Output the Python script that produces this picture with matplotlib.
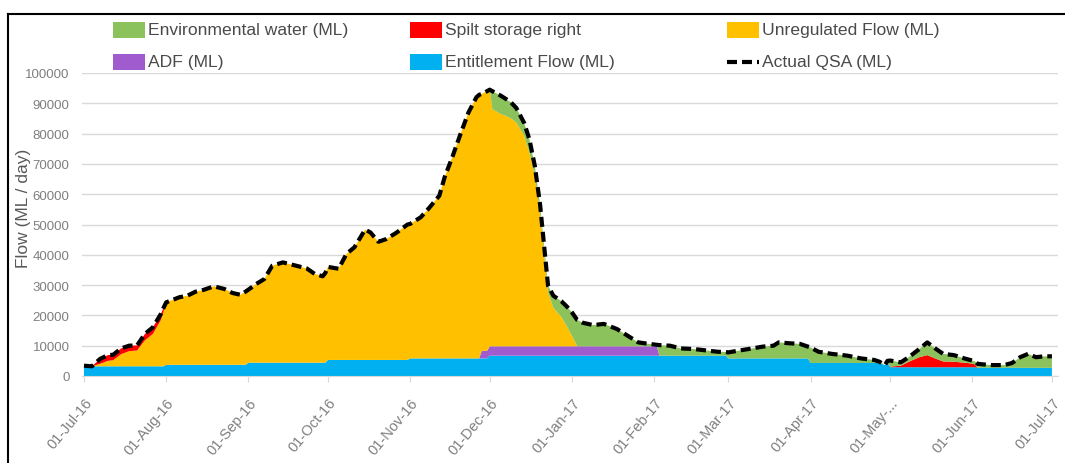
import numpy as np
import pandas as pd
import matplotlib
matplotlib.use("Agg")
import matplotlib.pyplot as plt
import matplotlib.dates as mdates
from matplotlib.patches import Rectangle
from matplotlib.lines import Line2D

# ---------------- data ----------------
start_date = "2016-07-01"
days = [0, 3, 6, 9, 11, 14, 17, 20, 23, 26, 29, 30,
        31, 36, 39, 42, 45, 49, 53, 56, 59, 61,
        62, 65, 68, 71, 75, 80, 84, 87, 90, 91,
        92, 96, 99, 102, 106, 108, 111, 114, 118, 122,
        123, 127, 130, 134, 136, 139, 142, 145, 148, 149, 150, 152,
        153, 154, 157, 159, 161, 163, 166, 168, 170, 172, 174, 175, 177, 180, 182, 184,
        186, 188, 192, 196, 201, 205, 209, 213, 216, 217, 221, 225, 230, 235, 239, 242,
        243, 247, 252, 256, 260, 262, 266, 270, 273,
        274, 277, 282, 288, 293, 298, 300, 302, 303,
        304, 308, 311, 315, 318, 321, 324, 328, 332, 335, 336,
        337, 342, 347, 350, 353, 356, 359, 362, 365]

actual_qsa = [3400, 3200, 5600, 6900, 7000, 9100, 10000, 10100, 13900, 16100, 20500, 22500,
              24300, 26000, 26500, 27800, 28400, 29600, 28700, 27400, 26800, 27900,
              28500, 30400, 32000, 36400, 37500, 36400, 35500, 33700, 32900, 34000,
              36000, 35400, 40300, 42500, 48300, 47400, 44300, 45200, 47400, 50000,
              50200, 52400, 55300, 59500, 65600, 72500, 79900, 87000, 92000, 92800, 93100, 94000,
              94500, 94000, 92600, 91500, 90300, 88500, 83500, 78000, 69400, 56500, 38600, 29800,
              26500, 24700, 23000, 21000,
              18500, 17600, 16800, 17200, 15500, 13300, 11100, 10600, 10300, 10200, 10000, 9100,
              8900, 8400, 8000, 7900,
              7800, 8400, 9100, 9700, 10000, 11100, 10800, 10600, 9700,
              9400, 8000, 7300, 6700, 5800, 5300, 4700, 3600, 5000,
              5100, 4500, 6200, 8900, 11100, 9100, 7300, 6900, 5800, 5100, 4800,
              4000, 3600, 3600, 4300, 6200, 7300, 6200, 6500, 6500]

entitlement = [3200] * 12 + [3700] * 10 + [4400] * 10 + [5300] * 10 + [5800] * 12 + \
              [6700] * 32 + [5800] * 9 + \
              [4300, 4300, 4300, 4300, 4300, 4300, 4300, 3600, 4300] + \
              [2900] * 11 + [2700] * 9

adf = [0] * 42 + [0] * 10 + [2500, 2500] + [3100] * 25 + [0] * 7 + [0] * 38

unregulated = [200, 0, 800, 1800, 2000, 4000, 5000, 5200, 8600, 10700, 15300, 18100,
               20600, 22300, 22800, 24100, 24700, 25900, 25000, 23700, 23100, 24200,
               24100, 26000, 27600, 32000, 33100, 32000, 31100, 29300, 28500, 29600,
               30700, 30100, 35000, 37200, 43000, 42100, 39000, 39900, 42100, 44700,
               44400, 46600, 49500, 53700, 59800, 66700, 74100, 81200, 86200, 87000, 84800, 85700,
               84700, 78300, 76700, 76100, 75200, 73900, 69500, 63700, 56200, 43700, 26200, 17700,
               12700, 9700, 6700, 3500, 0] + [0] * 15 + [0] * 38

spilt = [0, 0, 1600, 1900, 1800, 1900, 1800, 1700, 2100, 2200, 2000, 1200] + [0] * 42 + \
        [0] * 32 + [0] * 9 + [0] * 9 + \
        [200, 500, 1800, 3300, 4000, 2900, 1900, 1800, 1500, 1200, 900] + [0] * 9

environmental = [0] * 54 + \
                [0, 5900, 6100, 5600, 5300, 4800, 4200, 4500, 3400, 3000, 2600, 2300, 4000, 5200,
                 6500, 7700, 8700, 7800, 7000, 7400, 5700, 3500, 1300, 800, 500, 3500, 3300, 2400,
                 2200, 1700, 1300, 1200] + \
                [2000, 2600, 3300, 3900, 4200, 5300, 5000, 4800, 3900] + \
                [5100, 3700, 3000, 2400, 1500, 1000, 400, 0, 700] + \
                [2000, 1100, 1500, 2700, 4200, 3300, 2500, 2200, 1400, 1000, 1000] + \
                [1300, 900, 900, 1600, 3500, 4600, 3500, 3800, 3800]

tick_dates = ["2016-07-01", "2016-08-01", "2016-09-01", "2016-10-01", "2016-11-01",
              "2016-12-01", "2017-01-01", "2017-02-01", "2017-03-01", "2017-04-01",
              "2017-05-01", "2017-06-01", "2017-07-01"]
tick_labels = ["01-Jul-16", "01-Aug-16", "01-Sep-16", "01-Oct-16", "01-Nov-16",
               "01-Dec-16", "01-Jan-17", "01-Feb-17", "01-Mar-17", "01-Apr-17",
               "01-May-...", "01-Jun-17", "01-Jul-17"]
y_ticks = [0, 10000, 20000, 30000, 40000, 50000, 60000, 70000, 80000, 90000, 100000]

series_names = ["Environmental water (ML)", "Spilt storage right", "Unregulated Flow (ML)",
                "ADF (ML)", "Entitlement Flow (ML)", "Actual QSA (ML)"]

n = len(days)
for arr in (actual_qsa, entitlement, adf, unregulated, spilt, environmental):
    assert len(arr) == n, len(arr)

# ---------------- style ----------------
plt.rcParams["font.family"] = ["Liberation Sans", "DejaVu Sans"]

C_GREEN = "#8BC25B"
C_RED = "#FF0000"
C_ORANGE = "#FFC000"
C_PURPLE = "#A05CCF"
C_BLUE = "#00B0F0"
GRAY = "#7F7F7F"
TXT = "#4A4A4A"

W, H = 1065, 464
fig = plt.figure(figsize=(W / 100, H / 100), dpi=100)

def fx(px):
    return px / W

def fy(py):
    return 1 - py / H

ax = fig.add_axes([fx(82), fy(377), fx(1058) - fx(82), fy(74) - fy(377)])

t0 = pd.Timestamp(start_date)
dates = [t0 + pd.Timedelta(days=d) for d in days]
xd = mdates.date2num(dates)

ax.stackplot(xd, entitlement, adf, unregulated, spilt, environmental,
             colors=[C_BLUE, C_PURPLE, C_ORANGE, C_RED, C_GREEN], linewidth=0, zorder=2)
ax.plot(xd, actual_qsa, color="black", lw=3.0, linestyle=(0, (2.4, 1.2)),
        dash_capstyle="butt", zorder=3)

x0 = mdates.date2num(t0)
ax.set_xlim(x0 - 0.75, x0 + 367.3)
ax.set_ylim(0, 100000)

ax.set_yticks(y_ticks)
ax.set_yticklabels([str(v) for v in y_ticks])
tnum = mdates.date2num([pd.Timestamp(d) for d in tick_dates])
ax.set_xticks(tnum)
ax.set_xticklabels(tick_labels, rotation=50, ha="right", va="top", rotation_mode="anchor")

ax.yaxis.grid(True, color="#D9D9D9", lw=1.0)
ax.set_axisbelow(True)
for s in ("top", "right", "left"):
    ax.spines[s].set_visible(False)
ax.spines["bottom"].set_color("#D9D9D9")
ax.tick_params(axis="y", length=0, pad=9, labelcolor=GRAY, labelsize=9.5)
ax.tick_params(axis="x", length=4, color="#D9D9D9", pad=10, labelcolor=GRAY, labelsize=10.5)

fig.text(fx(24), fy(208), "Flow (ML / day)", rotation=90, ha="center", va="center",
         color="#595959", fontsize=12.5)

# ---------------- legend (manual, Excel-like layout) ----------------
leg_fs = 12.6
entries = [
    (113, 31, C_GREEN, series_names[0]),
    (410, 31, C_RED, series_names[1]),
    (727, 31, C_ORANGE, series_names[2]),
    (113, 63, C_PURPLE, series_names[3]),
    (410, 63, C_BLUE, series_names[4]),
]
for (px, py, col, lab) in entries:
    fig.add_artist(Rectangle((fx(px), fy(py + 8)), fx(32), 16 / H, transform=fig.transFigure,
                             facecolor=col, edgecolor="none"))
    fig.text(fx(px + 35), fy(py), lab, ha="left", va="center", fontsize=leg_fs, color=TXT)
fig.add_artist(Line2D([fx(727), fx(759)], [fy(63), fy(63)], transform=fig.transFigure,
                      color="black", lw=3.0, linestyle=(0, (2.4, 1.2))))
fig.text(fx(762), fy(63), series_names[5], ha="left", va="center", fontsize=leg_fs, color=TXT)

# ---------------- outer frame ----------------
fig.add_artist(Line2D([fx(8), fx(1065)], [fy(14.5), fy(14.5)], transform=fig.transFigure,
                      color="black", lw=1.5))
fig.add_artist(Line2D([fx(8), fx(8)], [fy(14.5), fy(464)], transform=fig.transFigure,
                      color="black", lw=1.5))

fig.savefig("out.png", dpi=100)
